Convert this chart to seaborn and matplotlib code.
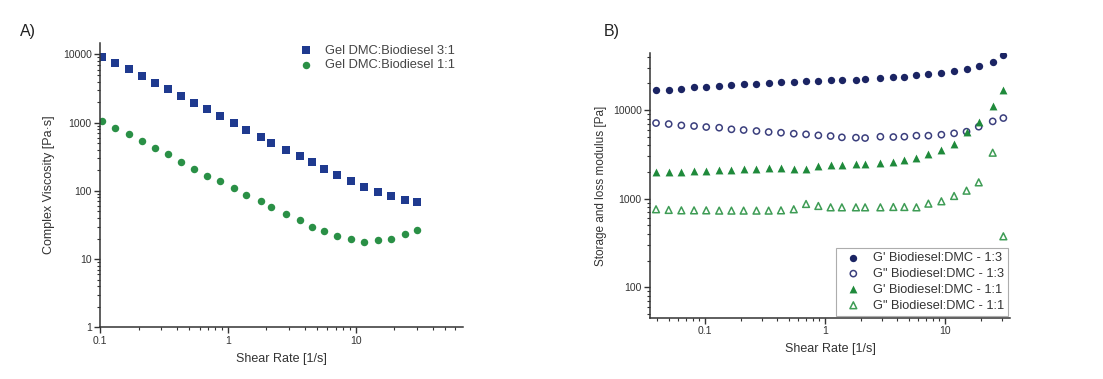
import numpy as np
import pandas as pd
import matplotlib
matplotlib.use("Agg")
import matplotlib.pyplot as plt
import seaborn as sns
from matplotlib.ticker import LogLocator, FixedLocator, FuncFormatter, NullFormatter

# ---------------------------------------------------------
# data
# ---------------------------------------------------------
# panel A: complex viscosity vs shear rate
shear_a = [0.103, 0.132, 0.167, 0.212, 0.268, 0.338, 0.43, 0.544, 0.69, 0.874,
           1.11, 1.38, 1.82, 2.16, 2.85, 3.69, 4.53, 5.65, 7.19, 9.2,
           11.7, 14.9, 18.8, 24.3, 29.9]
visc_31 = [9240, 7460, 6030, 4760, 3850, 3070, 2420, 1940, 1560, 1235,
           976, 788, 615, 502, 401, 327, 265, 211, 173, 139,
           114, 96, 83, 73, 69]
visc_11 = [1055, 833, 673, 537, 429, 343, 267, 209, 167, 138,
           111, 88, 70, 57, 46, 37, 30, 25.5, 21.8, 19.7,
           17.8, 18.8, 19.5, 23, 26.7]

# panel B: storage / loss modulus vs shear rate
shear_b = [0.0393, 0.0501, 0.0639, 0.0815, 0.103, 0.132, 0.167, 0.211, 0.270, 0.341,
           0.432, 0.552, 0.699, 0.885, 1.12, 1.39, 1.82, 2.17, 2.91, 3.73,
           4.61, 5.81, 7.31, 9.38, 11.97, 15.2, 19.2, 25.1, 30.8]
g1_13 = [16700, 16900, 17500, 18000, 18300, 18700, 19000, 19500, 19600, 20100,
         20500, 20900, 21100, 21400, 21600, 21800, 21600, 22400, 23000, 23400,
         23800, 24600, 25500, 26200, 27300, 29000, 31600, 35100, 41700]
g2_13 = [7130, 6950, 6710, 6600, 6430, 6320, 6060, 5950, 5800, 5650,
         5550, 5410, 5320, 5180, 5090, 4920, 4880, 4830, 5000, 4960,
         5000, 5140, 5140, 5270, 5460, 5700, 6490, 7450, 8120]
g1_11 = [1980, 1980, 2000, 2030, 2070, 2110, 2120, 2160, 2180, 2200,
         2200, 2140, 2140, 2320, 2380, 2420, 2460, 2480, 2530, 2590,
         2710, 2900, 3160, 3570, 4140, 5650, 7390, 11000, 16800]
g2_11 = [759, 746, 738, 738, 738, 733, 733, 733, 733, 733,
         738, 759, 871, 827, 798, 798, 798, 798, 798, 805,
         805, 798, 879, 934, 1072, 1231, 1528, 3300, 376]

df_a = pd.DataFrame({'Shear': shear_a, '3:1': visc_31, '1:1': visc_11})
df_b = pd.DataFrame({'Shear': shear_b, 'g1_13': g1_13, 'g2_13': g2_13,
                     'g1_11': g1_11, 'g2_11': g2_11})

# ---------------------------------------------------------
# style
# ---------------------------------------------------------
sns.set_theme(style="ticks")
plt.rcParams['font.family'] = ['Liberation Sans', 'DejaVu Sans']
plt.rcParams['axes.edgecolor'] = '#333333'
plt.rcParams['axes.linewidth'] = 1.1

blue = '#1f3a8f'
navy = '#1b2463'
navy_open = '#3b3f7d'
green = '#2a9046'
green_b = '#1f8a3b'
green_open = '#3e9c55'

fig = plt.figure(figsize=(11.03, 3.79), dpi=100)
ax_a = fig.add_axes([0.0907, 0.1364, 0.329, 0.750])
ax_b = fig.add_axes([0.5893, 0.1609, 0.3264, 0.6992])


def style_log_axes(ax, xmajor, ymajor):
    ax.set_xscale('log')
    ax.set_yscale('log')
    for s in ['top', 'right']:
        ax.spines[s].set_visible(False)
    ax.xaxis.set_major_locator(FixedLocator(xmajor))
    ax.yaxis.set_major_locator(FixedLocator(ymajor))
    ax.xaxis.set_minor_locator(LogLocator(base=10, subs=np.arange(2, 10)))
    ax.yaxis.set_minor_locator(LogLocator(base=10, subs=np.arange(2, 10)))
    fmt = FuncFormatter(lambda v, p: f'{v:g}')
    ax.xaxis.set_major_formatter(fmt)
    ax.yaxis.set_major_formatter(fmt)
    ax.xaxis.set_minor_formatter(NullFormatter())
    ax.yaxis.set_minor_formatter(NullFormatter())
    ax.tick_params(which='major', direction='out', length=4, width=1.0,
                   labelsize=7.5, colors='#333333', pad=2)
    ax.tick_params(which='minor', direction='out', length=2, width=0.8,
                   colors='#333333')


def scatter(ax, data, y, color, marker, label, open_=False, size=30):
    sns.scatterplot(data=data, x='Shear', y=y, ax=ax, color=color, marker=marker,
                    s=size, linewidth=0, label=label, legend=False)
    coll = ax.collections[-1]
    if open_:
        coll.set_facecolor('none')
        coll.set_edgecolor(color)
        coll.set_linewidth(1.1)
    else:
        coll.set_edgecolor(color)


# --- PANEL A ---
scatter(ax_a, df_a, '3:1', blue, 's', 'Gel DMC:Biodiesel 3:1', size=27)
scatter(ax_a, df_a, '1:1', green, 'o', 'Gel DMC:Biodiesel 1:1', size=29)
style_log_axes(ax_a, [0.1, 1, 10], [1, 10, 100, 1000, 10000])
ax_a.set_xlim(0.1, 69)
ax_a.set_ylim(1, 14650)
ax_a.set_xlabel('Shear Rate [1/s]', fontsize=9, color='#333333', labelpad=5)
ax_a.set_ylabel('Complex Viscosity [Pa·s]', fontsize=9, color='#333333', labelpad=6)
ax_a.legend(loc='upper left', bbox_to_anchor=(0.50, 1.035), frameon=False,
            fontsize=9.3, handletextpad=0.5, labelspacing=0.2, markerscale=1.0,
            labelcolor='#444444')
fig.text(0.018, 0.905, 'A)', fontsize=11.5, color='#222222')

# --- PANEL B ---
scatter(ax_b, df_b, 'g1_13', navy, 'o', "G' Biodiesel:DMC - 1:3", size=28)
scatter(ax_b, df_b, 'g2_13', navy_open, 'o', 'G" Biodiesel:DMC - 1:3', open_=True, size=20)
scatter(ax_b, df_b, 'g1_11', green_b, '^', "G' Biodiesel:DMC - 1:1", size=32)
scatter(ax_b, df_b, 'g2_11', green_open, '^', 'G" Biodiesel:DMC - 1:1', open_=True, size=24)
style_log_axes(ax_b, [0.1, 1, 10], [100, 1000, 10000])
ax_b.set_xlim(0.035, 35)
ax_b.set_ylim(45, 44000)
ax_b.set_xlabel('Shear Rate [1/s]', fontsize=9, color='#333333', labelpad=5)
ax_b.set_ylabel('Storage and loss modulus [Pa]', fontsize=8.5, color='#333333', labelpad=4)
leg = ax_b.legend(loc='lower right', bbox_to_anchor=(1.0, 0.0), borderaxespad=0.15,
                  frameon=True, fancybox=False, edgecolor='#999999', fontsize=9.2,
                  handletextpad=0.5, labelspacing=0.3, borderpad=0.35,
                  labelcolor='#333333')
leg.get_frame().set_linewidth(0.8)
fig.text(0.547, 0.905, 'B)', fontsize=11.5, color='#222222')

plt.savefig('out.png', dpi=100)
